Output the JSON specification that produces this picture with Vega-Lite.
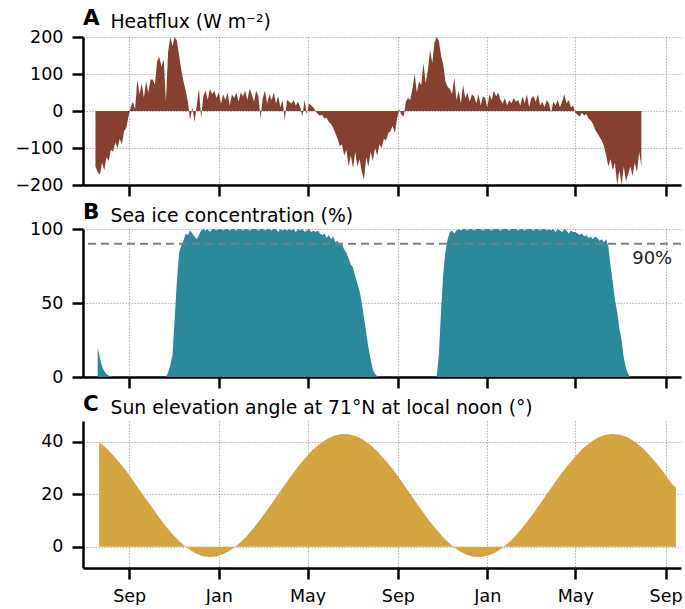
{
  "$schema": "https://vega.github.io/schema/vega-lite/v6.json",
  "padding": {"left": 14, "top": 7, "right": 0, "bottom": 0},
  "background": "white",
  "config": {
    "font": "DejaVu Sans",
    "view": {"stroke": null},
    "axis": {
      "domainColor": "#000", "domainWidth": 2.5, "tickColor": "#000", "tickWidth": 2.5, "tickSize": 11,
      "labelFontSize": 17.5, "labelColor": "#000", "labelFont": "DejaVu Sans", "labelPadding": 9,
      "titleFont": "DejaVu Sans", "titleColor": "#000", "titleFontWeight": "normal", "titleFontSize": 18.8,
      "gridColor": "#000", "gridOpacity": 0.3, "gridDash": [1.5, 1.5], "gridWidth": 1, "zindex": 1
    },
    "axisX": {"labelPadding": 8, "labelFlush": false},
    "title": {"font": "DejaVu Sans", "fontSize": 21.5, "fontWeight": "bold", "anchor": "start", "frame": "group", "color": "#000", "offset": -17}
  },
  "datasets": {
    "obs": [
      {"d":"2019-07-17","hf":-150},
      {"d":"2019-07-20","hf":-165,"ice":20},
      {"d":"2019-07-23","hf":-172,"ice":13},
      {"d":"2019-07-26","hf":-140,"ice":7},
      {"d":"2019-07-29","hf":-160,"ice":4},
      {"d":"2019-08-01","hf":-125,"ice":2},
      {"d":"2019-08-04","hf":-135,"ice":1},
      {"d":"2019-08-07","hf":-105,"ice":0.5},
      {"d":"2019-08-10","hf":-110,"ice":0},
      {"d":"2019-08-13","hf":-85,"ice":0},
      {"d":"2019-08-16","hf":-100,"ice":0},
      {"d":"2019-08-19","hf":-75,"ice":0},
      {"d":"2019-08-22","hf":-90,"ice":0},
      {"d":"2019-08-25","hf":-55,"ice":0},
      {"d":"2019-08-28","hf":-45,"ice":0},
      {"d":"2019-08-31","hf":-15,"ice":0},
      {"d":"2019-09-03","hf":10,"ice":0},
      {"d":"2019-09-06","hf":25,"ice":0},
      {"d":"2019-09-09","hf":5,"ice":0},
      {"d":"2019-09-12","hf":85,"ice":0},
      {"d":"2019-09-15","hf":45,"ice":0},
      {"d":"2019-09-18","hf":75,"ice":0},
      {"d":"2019-09-21","hf":35,"ice":0},
      {"d":"2019-09-24","hf":80,"ice":0},
      {"d":"2019-09-27","hf":50,"ice":0},
      {"d":"2019-09-30","hf":85,"ice":0},
      {"d":"2019-10-03","hf":85,"ice":0},
      {"d":"2019-10-06","hf":70,"ice":0},
      {"d":"2019-10-09","hf":135,"ice":0},
      {"d":"2019-10-12","hf":145,"ice":0},
      {"d":"2019-10-15","hf":120,"ice":0},
      {"d":"2019-10-18","hf":140,"ice":0},
      {"d":"2019-10-21","hf":25,"ice":0},
      {"d":"2019-10-24","hf":160,"ice":3},
      {"d":"2019-10-27","hf":200,"ice":8},
      {"d":"2019-10-30","hf":175,"ice":15},
      {"d":"2019-11-02","hf":200,"ice":40},
      {"d":"2019-11-05","hf":190,"ice":65},
      {"d":"2019-11-08","hf":150,"ice":84},
      {"d":"2019-11-11","hf":110,"ice":89},
      {"d":"2019-11-14","hf":80,"ice":92},
      {"d":"2019-11-17","hf":55,"ice":97},
      {"d":"2019-11-20","hf":25,"ice":96},
      {"d":"2019-11-23","hf":-25,"ice":99},
      {"d":"2019-11-26","hf":10,"ice":97},
      {"d":"2019-11-29","hf":-30,"ice":95},
      {"d":"2019-12-02","hf":15,"ice":93},
      {"d":"2019-12-05","hf":60,"ice":96},
      {"d":"2019-12-08","hf":-20,"ice":99},
      {"d":"2019-12-11","hf":40,"ice":100},
      {"d":"2019-12-14","hf":55,"ice":99},
      {"d":"2019-12-17","hf":30,"ice":100},
      {"d":"2019-12-20","hf":60,"ice":98},
      {"d":"2019-12-23","hf":45,"ice":100},
      {"d":"2019-12-26","hf":55,"ice":100},
      {"d":"2019-12-29","hf":35,"ice":99},
      {"d":"2020-01-01","hf":50,"ice":100},
      {"d":"2020-01-04","hf":20,"ice":100},
      {"d":"2020-01-07","hf":45,"ice":99},
      {"d":"2020-01-10","hf":30,"ice":100},
      {"d":"2020-01-13","hf":50,"ice":100},
      {"d":"2020-01-16","hf":15,"ice":99},
      {"d":"2020-01-19","hf":45,"ice":100},
      {"d":"2020-01-22","hf":35,"ice":100},
      {"d":"2020-01-25","hf":50,"ice":99},
      {"d":"2020-01-28","hf":25,"ice":100},
      {"d":"2020-01-31","hf":50,"ice":100},
      {"d":"2020-02-03","hf":40,"ice":99},
      {"d":"2020-02-06","hf":55,"ice":100},
      {"d":"2020-02-09","hf":30,"ice":100},
      {"d":"2020-02-12","hf":60,"ice":99},
      {"d":"2020-02-15","hf":45,"ice":100},
      {"d":"2020-02-18","hf":25,"ice":100},
      {"d":"2020-02-21","hf":55,"ice":100},
      {"d":"2020-02-24","hf":40,"ice":99},
      {"d":"2020-02-27","hf":-20,"ice":100},
      {"d":"2020-03-01","hf":35,"ice":100},
      {"d":"2020-03-04","hf":55,"ice":99},
      {"d":"2020-03-07","hf":20,"ice":100},
      {"d":"2020-03-10","hf":45,"ice":100},
      {"d":"2020-03-13","hf":30,"ice":99},
      {"d":"2020-03-16","hf":50,"ice":100},
      {"d":"2020-03-19","hf":20,"ice":100},
      {"d":"2020-03-22","hf":40,"ice":98},
      {"d":"2020-03-25","hf":10,"ice":100},
      {"d":"2020-03-28","hf":30,"ice":99},
      {"d":"2020-03-31","hf":-25,"ice":100},
      {"d":"2020-04-03","hf":30,"ice":99},
      {"d":"2020-04-06","hf":25,"ice":100},
      {"d":"2020-04-09","hf":20,"ice":99},
      {"d":"2020-04-12","hf":30,"ice":100},
      {"d":"2020-04-15","hf":15,"ice":98},
      {"d":"2020-04-18","hf":25,"ice":100},
      {"d":"2020-04-21","hf":10,"ice":99},
      {"d":"2020-04-24","hf":-15,"ice":100},
      {"d":"2020-04-27","hf":30,"ice":98},
      {"d":"2020-04-30","hf":-10,"ice":99},
      {"d":"2020-05-03","hf":20,"ice":100},
      {"d":"2020-05-06","hf":15,"ice":98},
      {"d":"2020-05-09","hf":10,"ice":99},
      {"d":"2020-05-12","hf":0,"ice":98},
      {"d":"2020-05-15","hf":-8,"ice":99},
      {"d":"2020-05-18","hf":-12,"ice":97},
      {"d":"2020-05-21","hf":-10,"ice":96},
      {"d":"2020-05-24","hf":-20,"ice":97},
      {"d":"2020-05-27","hf":-18,"ice":94},
      {"d":"2020-05-30","hf":-30,"ice":96},
      {"d":"2020-06-02","hf":-35,"ice":93},
      {"d":"2020-06-05","hf":-45,"ice":95},
      {"d":"2020-06-08","hf":-60,"ice":91},
      {"d":"2020-06-11","hf":-75,"ice":92},
      {"d":"2020-06-14","hf":-95,"ice":89},
      {"d":"2020-06-17","hf":-90,"ice":90},
      {"d":"2020-06-20","hf":-120,"ice":86},
      {"d":"2020-06-23","hf":-105,"ice":84},
      {"d":"2020-06-26","hf":-150,"ice":80},
      {"d":"2020-06-29","hf":-120,"ice":76},
      {"d":"2020-07-02","hf":-155,"ice":74},
      {"d":"2020-07-05","hf":-110,"ice":68},
      {"d":"2020-07-08","hf":-150,"ice":63},
      {"d":"2020-07-11","hf":-130,"ice":58},
      {"d":"2020-07-14","hf":-165,"ice":50},
      {"d":"2020-07-17","hf":-185,"ice":40},
      {"d":"2020-07-20","hf":-125,"ice":30},
      {"d":"2020-07-23","hf":-150,"ice":20},
      {"d":"2020-07-26","hf":-110,"ice":12},
      {"d":"2020-07-29","hf":-135,"ice":5},
      {"d":"2020-08-01","hf":-100,"ice":2},
      {"d":"2020-08-04","hf":-120,"ice":0.5},
      {"d":"2020-08-07","hf":-90,"ice":0},
      {"d":"2020-08-10","hf":-100,"ice":0},
      {"d":"2020-08-13","hf":-75,"ice":0},
      {"d":"2020-08-16","hf":-80,"ice":0},
      {"d":"2020-08-19","hf":-60,"ice":0},
      {"d":"2020-08-22","hf":-55,"ice":0},
      {"d":"2020-08-25","hf":-40,"ice":0},
      {"d":"2020-08-28","hf":-60,"ice":0},
      {"d":"2020-08-31","hf":-20,"ice":0},
      {"d":"2020-09-03","hf":5,"ice":0},
      {"d":"2020-09-06","hf":-10,"ice":0},
      {"d":"2020-09-09","hf":-15,"ice":0},
      {"d":"2020-09-12","hf":25,"ice":0},
      {"d":"2020-09-15","hf":35,"ice":0},
      {"d":"2020-09-18","hf":30,"ice":0},
      {"d":"2020-09-21","hf":60,"ice":0},
      {"d":"2020-09-24","hf":100,"ice":0},
      {"d":"2020-09-27","hf":50,"ice":0},
      {"d":"2020-09-30","hf":80,"ice":0},
      {"d":"2020-10-03","hf":70,"ice":0},
      {"d":"2020-10-06","hf":130,"ice":0},
      {"d":"2020-10-09","hf":75,"ice":0},
      {"d":"2020-10-12","hf":110,"ice":0},
      {"d":"2020-10-15","hf":165,"ice":0},
      {"d":"2020-10-18","hf":130,"ice":0},
      {"d":"2020-10-21","hf":185,"ice":0},
      {"d":"2020-10-24","hf":200,"ice":0},
      {"d":"2020-10-27","hf":190,"ice":15},
      {"d":"2020-10-30","hf":150,"ice":45},
      {"d":"2020-11-02","hf":125,"ice":70},
      {"d":"2020-11-05","hf":80,"ice":85},
      {"d":"2020-11-08","hf":65,"ice":93},
      {"d":"2020-11-11","hf":60,"ice":98},
      {"d":"2020-11-14","hf":45,"ice":99},
      {"d":"2020-11-17","hf":90,"ice":97},
      {"d":"2020-11-20","hf":30,"ice":99},
      {"d":"2020-11-23","hf":55,"ice":100},
      {"d":"2020-11-26","hf":20,"ice":99},
      {"d":"2020-11-29","hf":70,"ice":100},
      {"d":"2020-12-02","hf":35,"ice":100},
      {"d":"2020-12-05","hf":50,"ice":99},
      {"d":"2020-12-08","hf":25,"ice":100},
      {"d":"2020-12-11","hf":45,"ice":100},
      {"d":"2020-12-14","hf":40,"ice":99},
      {"d":"2020-12-17","hf":20,"ice":100},
      {"d":"2020-12-20","hf":45,"ice":100},
      {"d":"2020-12-23","hf":15,"ice":100},
      {"d":"2020-12-26","hf":40,"ice":99},
      {"d":"2020-12-29","hf":35,"ice":100},
      {"d":"2021-01-01","hf":10,"ice":100},
      {"d":"2021-01-04","hf":45,"ice":100},
      {"d":"2021-01-07","hf":30,"ice":99},
      {"d":"2021-01-10","hf":55,"ice":100},
      {"d":"2021-01-13","hf":40,"ice":100},
      {"d":"2021-01-16","hf":50,"ice":100},
      {"d":"2021-01-19","hf":30,"ice":99},
      {"d":"2021-01-22","hf":20,"ice":100},
      {"d":"2021-01-25","hf":35,"ice":100},
      {"d":"2021-01-28","hf":15,"ice":100},
      {"d":"2021-01-31","hf":30,"ice":99},
      {"d":"2021-02-03","hf":20,"ice":100},
      {"d":"2021-02-06","hf":35,"ice":100},
      {"d":"2021-02-09","hf":25,"ice":100},
      {"d":"2021-02-12","hf":30,"ice":99},
      {"d":"2021-02-15","hf":15,"ice":100},
      {"d":"2021-02-18","hf":40,"ice":100},
      {"d":"2021-02-21","hf":20,"ice":99},
      {"d":"2021-02-24","hf":45,"ice":100},
      {"d":"2021-02-27","hf":10,"ice":100},
      {"d":"2021-03-02","hf":35,"ice":100},
      {"d":"2021-03-05","hf":40,"ice":99},
      {"d":"2021-03-08","hf":25,"ice":100},
      {"d":"2021-03-11","hf":45,"ice":100},
      {"d":"2021-03-14","hf":15,"ice":99},
      {"d":"2021-03-17","hf":25,"ice":100},
      {"d":"2021-03-20","hf":10,"ice":100},
      {"d":"2021-03-23","hf":30,"ice":99},
      {"d":"2021-03-26","hf":20,"ice":100},
      {"d":"2021-03-29","hf":-5,"ice":99},
      {"d":"2021-04-01","hf":25,"ice":100},
      {"d":"2021-04-04","hf":15,"ice":98},
      {"d":"2021-04-07","hf":30,"ice":100},
      {"d":"2021-04-10","hf":10,"ice":99},
      {"d":"2021-04-13","hf":25,"ice":98},
      {"d":"2021-04-16","hf":45,"ice":100},
      {"d":"2021-04-19","hf":20,"ice":99},
      {"d":"2021-04-22","hf":30,"ice":97},
      {"d":"2021-04-25","hf":10,"ice":99},
      {"d":"2021-04-28","hf":15,"ice":98},
      {"d":"2021-05-01","hf":-5,"ice":98},
      {"d":"2021-05-04","hf":-10,"ice":97},
      {"d":"2021-05-07","hf":-15,"ice":96},
      {"d":"2021-05-10","hf":-5,"ice":97},
      {"d":"2021-05-13","hf":-12,"ice":95},
      {"d":"2021-05-16","hf":-8,"ice":96},
      {"d":"2021-05-19","hf":-20,"ice":94},
      {"d":"2021-05-22","hf":-25,"ice":95},
      {"d":"2021-05-25","hf":-35,"ice":93},
      {"d":"2021-05-28","hf":-50,"ice":95},
      {"d":"2021-05-31","hf":-60,"ice":94},
      {"d":"2021-06-03","hf":-70,"ice":92},
      {"d":"2021-06-06","hf":-80,"ice":93},
      {"d":"2021-06-09","hf":-95,"ice":91},
      {"d":"2021-06-12","hf":-120,"ice":93},
      {"d":"2021-06-15","hf":-150,"ice":88},
      {"d":"2021-06-18","hf":-130,"ice":75},
      {"d":"2021-06-21","hf":-160,"ice":64},
      {"d":"2021-06-24","hf":-140,"ice":52},
      {"d":"2021-06-27","hf":-200,"ice":44},
      {"d":"2021-06-30","hf":-160,"ice":33},
      {"d":"2021-07-03","hf":-200,"ice":25},
      {"d":"2021-07-06","hf":-150,"ice":13},
      {"d":"2021-07-09","hf":-190,"ice":6},
      {"d":"2021-07-12","hf":-170,"ice":2},
      {"d":"2021-07-15","hf":-150,"ice":0},
      {"d":"2021-07-18","hf":-175,"ice":0},
      {"d":"2021-07-21","hf":-140,"ice":0},
      {"d":"2021-07-24","hf":-165,"ice":0},
      {"d":"2021-07-27","hf":-110},
      {"d":"2021-07-30","hf":-150}
    ],
    "sun": [
      {"d":"2019-07-22","elev":39.7},{"d":"2019-08-01","elev":37.4},{"d":"2019-08-11","elev":34.5},
      {"d":"2019-08-21","elev":31.3},{"d":"2019-08-31","elev":27.6},{"d":"2019-09-10","elev":23.7},
      {"d":"2019-09-20","elev":19.7},{"d":"2019-09-30","elev":15.7},{"d":"2019-10-10","elev":11.8},
      {"d":"2019-10-20","elev":8.1},{"d":"2019-10-30","elev":4.7},{"d":"2019-11-09","elev":1.9},
      {"d":"2019-11-19","elev":-0.5},{"d":"2019-11-29","elev":-2.3},{"d":"2019-12-09","elev":-3.5},
      {"d":"2019-12-19","elev":-3.9},{"d":"2019-12-29","elev":-3.7},{"d":"2020-01-08","elev":-2.8},
      {"d":"2020-01-18","elev":-1.2},{"d":"2020-01-28","elev":1.0},{"d":"2020-02-07","elev":3.7},
      {"d":"2020-02-17","elev":6.9},{"d":"2020-02-27","elev":10.5},{"d":"2020-03-08","elev":14.3},
      {"d":"2020-03-18","elev":18.3},{"d":"2020-03-28","elev":22.3},{"d":"2020-04-07","elev":26.3},
      {"d":"2020-04-17","elev":30.0},{"d":"2020-04-27","elev":33.4},{"d":"2020-05-07","elev":36.5},
      {"d":"2020-05-17","elev":39.0},{"d":"2020-05-27","elev":40.9},{"d":"2020-06-06","elev":42.2},
      {"d":"2020-06-16","elev":42.9},{"d":"2020-06-26","elev":42.8},{"d":"2020-07-06","elev":42.1},
      {"d":"2020-07-16","elev":40.7},{"d":"2020-07-26","elev":38.6},{"d":"2020-08-05","elev":36.0},
      {"d":"2020-08-15","elev":32.9},{"d":"2020-08-25","elev":29.5},{"d":"2020-09-04","elev":25.7},
      {"d":"2020-09-14","elev":21.7},{"d":"2020-09-24","elev":17.7},{"d":"2020-10-04","elev":13.7},
      {"d":"2020-10-14","elev":9.9},{"d":"2020-10-24","elev":6.4},{"d":"2020-11-03","elev":3.2},
      {"d":"2020-11-13","elev":0.6},{"d":"2020-11-23","elev":-1.5},{"d":"2020-12-03","elev":-3.0},
      {"d":"2020-12-13","elev":-3.8},{"d":"2020-12-23","elev":-3.9},{"d":"2021-01-02","elev":-3.4},
      {"d":"2021-01-12","elev":-2.2},{"d":"2021-01-22","elev":-0.4},{"d":"2021-02-01","elev":2.0},
      {"d":"2021-02-11","elev":4.9},{"d":"2021-02-21","elev":8.3},{"d":"2021-03-03","elev":12.0},
      {"d":"2021-03-13","elev":15.9},{"d":"2021-03-23","elev":19.9},{"d":"2021-04-02","elev":23.9},
      {"d":"2021-04-12","elev":27.8},{"d":"2021-04-22","elev":31.4},{"d":"2021-05-02","elev":34.7},
      {"d":"2021-05-12","elev":37.5},{"d":"2021-05-22","elev":39.8},{"d":"2021-06-01","elev":41.5},
      {"d":"2021-06-11","elev":42.6},{"d":"2021-06-21","elev":42.9},{"d":"2021-07-01","elev":42.6},
      {"d":"2021-07-11","elev":41.6},{"d":"2021-07-21","elev":39.9},{"d":"2021-07-31","elev":37.7},
      {"d":"2021-08-10","elev":34.8},{"d":"2021-08-20","elev":31.6},{"d":"2021-08-30","elev":28.0},
      {"d":"2021-09-09","elev":24.1},{"d":"2021-09-15","elev":22.5}
    ]
  },
  "vconcat": [
    {
      "width": 598, "height": 148,
      "title": {"text": "A"},
      "data": {"name": "obs"},
      "mark": {"type": "area", "color": "#85402f", "clip": true},
      "encoding": {
        "x": {"field": "d", "type": "temporal",
          "scale": {"type": "utc", "domain": [{"year":2019,"month":6,"date":30,"utc":true},{"year":2021,"month":9,"date":22,"utc":true}]},
          "axis": {"title": null, "labels": false, "grid": true,
            "values": [{"year":2019,"month":9,"date":1,"utc":true},{"year":2020,"month":1,"date":1,"utc":true},{"year":2020,"month":5,"date":1,"utc":true},{"year":2020,"month":9,"date":1,"utc":true},{"year":2021,"month":1,"date":1,"utc":true},{"year":2021,"month":5,"date":1,"utc":true},{"year":2021,"month":9,"date":1,"utc":true}]}},
        "y": {"field": "hf", "type": "quantitative",
          "scale": {"domain": [-200, 200], "nice": false},
          "axis": {"values": [-200, -100, 0, 100, 200], "grid": true, "title": "Heatflux (W m⁻²)",
            "titleAngle": 0, "titleAlign": "left", "titleBaseline": "alphabetic", "titleX": 27, "titleY": -10}}
      }
    },
    {
      "width": 598, "height": 148,
      "title": {"text": "B"},
      "layer": [
        {
          "data": {"name": "obs"},
          "mark": {"type": "area", "color": "#2a8a9b", "clip": true},
          "encoding": {
            "x": {"field": "d", "type": "temporal",
              "scale": {"type": "utc", "domain": [{"year":2019,"month":6,"date":30,"utc":true},{"year":2021,"month":9,"date":22,"utc":true}]},
              "axis": {"title": null, "labels": false, "grid": true,
                "values": [{"year":2019,"month":9,"date":1,"utc":true},{"year":2020,"month":1,"date":1,"utc":true},{"year":2020,"month":5,"date":1,"utc":true},{"year":2020,"month":9,"date":1,"utc":true},{"year":2021,"month":1,"date":1,"utc":true},{"year":2021,"month":5,"date":1,"utc":true},{"year":2021,"month":9,"date":1,"utc":true}]}},
            "y": {"field": "ice", "type": "quantitative",
              "scale": {"domain": [0, 100], "nice": false},
              "axis": {"values": [0, 50, 100], "grid": true, "title": "Sea ice concentration (%)",
                "titleAngle": 0, "titleAlign": "left", "titleBaseline": "alphabetic", "titleX": 27, "titleY": -8}}
          }
        },
        {
          "data": {"values": [{}]},
          "mark": {"type": "rule", "color": "#808080", "strokeDash": [8, 5], "strokeWidth": 2},
          "encoding": {"y": {"datum": 90}}
        },
        {
          "data": {"values": [{}]},
          "mark": {"type": "text", "align": "right", "baseline": "middle", "fontSize": 18, "color": "#222"},
          "encoding": {
            "x": {"datum": {"year":2021,"month":9,"date":10,"utc":true}, "type": "temporal"},
            "y": {"datum": 80},
            "text": {"value": "90%"}
          }
        }
      ]
    },
    {
      "width": 598, "height": 147,
      "title": {"text": "C"},
      "data": {"name": "sun"},
      "mark": {"type": "area", "color": "#d4a440", "clip": true},
      "encoding": {
        "x": {"field": "d", "type": "temporal",
          "scale": {"type": "utc", "domain": [{"year":2019,"month":6,"date":30,"utc":true},{"year":2021,"month":9,"date":22,"utc":true}]},
          "axis": {"title": null, "format": "%b", "grid": true,
            "values": [{"year":2019,"month":9,"date":1,"utc":true},{"year":2020,"month":1,"date":1,"utc":true},{"year":2020,"month":5,"date":1,"utc":true},{"year":2020,"month":9,"date":1,"utc":true},{"year":2021,"month":1,"date":1,"utc":true},{"year":2021,"month":5,"date":1,"utc":true},{"year":2021,"month":9,"date":1,"utc":true}]}},
        "y": {"field": "elev", "type": "quantitative",
          "scale": {"domain": [-8.1, 47.8], "nice": false, "zero": false},
          "axis": {"values": [0, 20, 40], "grid": true, "title": "Sun elevation angle at 71°N at local noon (°)",
            "titleAngle": 0, "titleAlign": "left", "titleBaseline": "alphabetic", "titleX": 27, "titleY": -8}}
      }
    }
  ],
  "spacing": 44,
  "bounds": "flush"
}
